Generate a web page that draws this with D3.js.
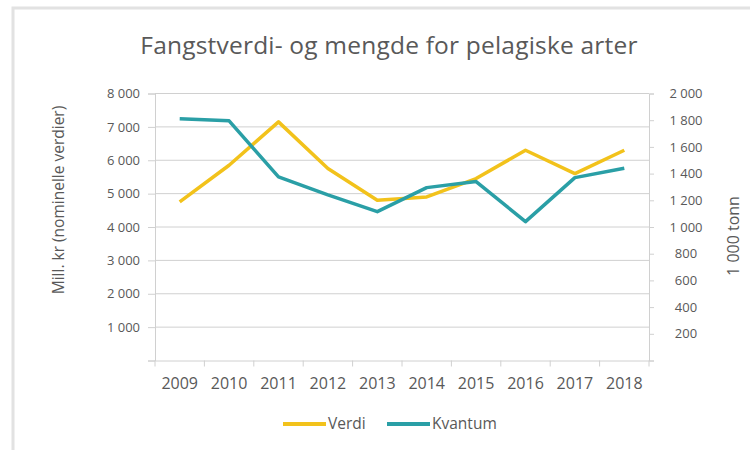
<!DOCTYPE html>
<html>
<head>
<meta charset="utf-8">
<script src="https://cdn.jsdelivr.net/npm/d3@7"></script>
<style>
  body { margin: 0; background: #fff; }
  text { font-family: "Open Sans", sans-serif; fill: #595959; }
</style>
</head>
<body>
<svg width="750" height="450"></svg>
<script>
(function () {
    'use strict';

    var years = ['2009', '2010', '2011', '2012', '2013', '2014', '2015', '2016', '2017', '2018'];
    var verdi = [4750, 5850, 7150, 5750, 4800, 4900, 5450, 6300, 5600, 6300];
    var kvantum = [1810, 1795, 1375, 1240, 1115, 1295, 1340, 1040, 1370, 1440];
    var leftTicks = [1000, 2000, 3000, 4000, 5000, 6000, 7000, 8000];
    var rightTicks = [200, 400, 600, 800, 1000, 1200, 1400, 1600, 1800, 2000];

    var palette = ['#f2c21b', '#2a9fa6'];
    var svg = d3.select("svg");

    var plot = {left: 155, right: 649, top: 93.5, bottom: 360.5};

    var fmt = function (d) { return d3.format(",")(d).replace(",", "\u00a0"); };

    // frame edge (top and left only, as in the screenshot)
    svg.append("path")
        .attr("d", "M13,450 V8 H750")
        .attr("fill", "none")
        .attr("stroke", "#e2e2e2")
        .attr("stroke-width", 3);

    var x = d3.scaleBand().domain(years).range([plot.left, plot.right]).padding(0);
    var yL = d3.scaleLinear().domain([0, 8000]).range([plot.bottom, plot.top]);
    var yR = d3.scaleLinear().domain([0, 2000]).range([plot.bottom, plot.top]);

    // grid
    svg.append("g")
        .selectAll("line")
        .data(leftTicks)
        .enter().append("line")
        .attr("x1", plot.left).attr("x2", plot.right)
        .attr("y1", function (d) { return yL(d); })
        .attr("y2", function (d) { return yL(d); })
        .attr("stroke", "#d9d9d9")
        .attr("stroke-width", 1);

    // left axis
    var gl = svg.append("g")
        .attr("transform", "translate(" + plot.left + ",0)")
        .call(d3.axisLeft(yL).tickValues([0].concat(leftTicks)).tickSize(7).tickPadding(8)
            .tickFormat(function (d) { return d === 0 ? "" : fmt(d); }));
    gl.selectAll("text").style("font-size", "13px").attr("fill", "#595959");

    // right axis
    var gr = svg.append("g")
        .attr("transform", "translate(" + plot.right + ",0)")
        .call(d3.axisRight(yR).tickValues([0].concat(rightTicks)).tickSize(5).tickPadding(0)
            .tickFormat(function (d) { return d === 0 ? "" : fmt(d); }));
    gr.selectAll("text").style("font-size", "13px").attr("fill", "#595959")
        .attr("text-anchor", "middle").attr("x", 37);

    // bottom axis, ticks on category boundaries
    var gb = svg.append("g")
        .attr("transform", "translate(0," + plot.bottom + ")")
        .call(d3.axisBottom(x).tickSize(0).tickPadding(17));
    gb.selectAll("text").style("font-size", "16px").attr("fill", "#595959");
    gb.selectAll(".bnd")
        .data(d3.range(years.length + 1))
        .enter().append("line")
        .attr("x1", function (i) { return plot.left + i * x.step(); })
        .attr("x2", function (i) { return plot.left + i * x.step(); })
        .attr("y1", 0).attr("y2", 6);

    svg.selectAll(".domain, .tick line, g line").attr("stroke", "#d0d0d0");

    // lines
    var cx = function (d, i) { return x(years[i]) + x.bandwidth() / 2; };
    var lineL = d3.line().x(cx).y(function (d) { return yL(d); });
    var lineR = d3.line().x(cx).y(function (d) { return yR(d); });

    svg.append("path").datum(verdi)
        .attr("d", lineL)
        .attr("fill", "none")
        .attr("stroke", palette[0])
        .attr("stroke-width", 3.5)
        .attr("stroke-linejoin", "round");

    svg.append("path").datum(kvantum)
        .attr("d", lineR)
        .attr("fill", "none")
        .attr("stroke", palette[1])
        .attr("stroke-width", 3.5)
        .attr("stroke-linejoin", "round");

    // titles
    svg.append("text")
        .attr("x", 389).attr("y", 54)
        .attr("text-anchor", "middle")
        .style("font-size", "24.5px")
        .style("letter-spacing", "0.2px")
        .text("Fangstverdi- og mengde for pelagiske arter");

    svg.append("text")
        .attr("transform", "translate(64,200) rotate(-90)")
        .attr("text-anchor", "middle")
        .style("font-size", "15.5px")
        .text("Mill. kr (nominelle verdier)");

    svg.append("text")
        .attr("transform", "translate(739,236) rotate(-90)")
        .attr("text-anchor", "middle")
        .style("font-size", "16px")
        .text("1\u00a0000 tonn");

    // legend
    var legend = [{name: "Verdi", x: 283}, {name: "Kvantum", x: 387}];
    var lg = svg.append("g").selectAll("g")
        .data(legend)
        .enter().append("g")
        .attr("transform", function (d) { return "translate(" + d.x + ",424)"; });
    lg.append("line")
        .attr("x1", 0).attr("x2", 43)
        .attr("stroke", function (d, i) { return palette[i]; })
        .attr("stroke-width", 4);
    lg.append("text")
        .attr("x", 45).attr("dy", "0.35em")
        .style("font-size", "15.5px")
        .text(function (d) { return d.name; });
})();
</script>
</body>
</html>
